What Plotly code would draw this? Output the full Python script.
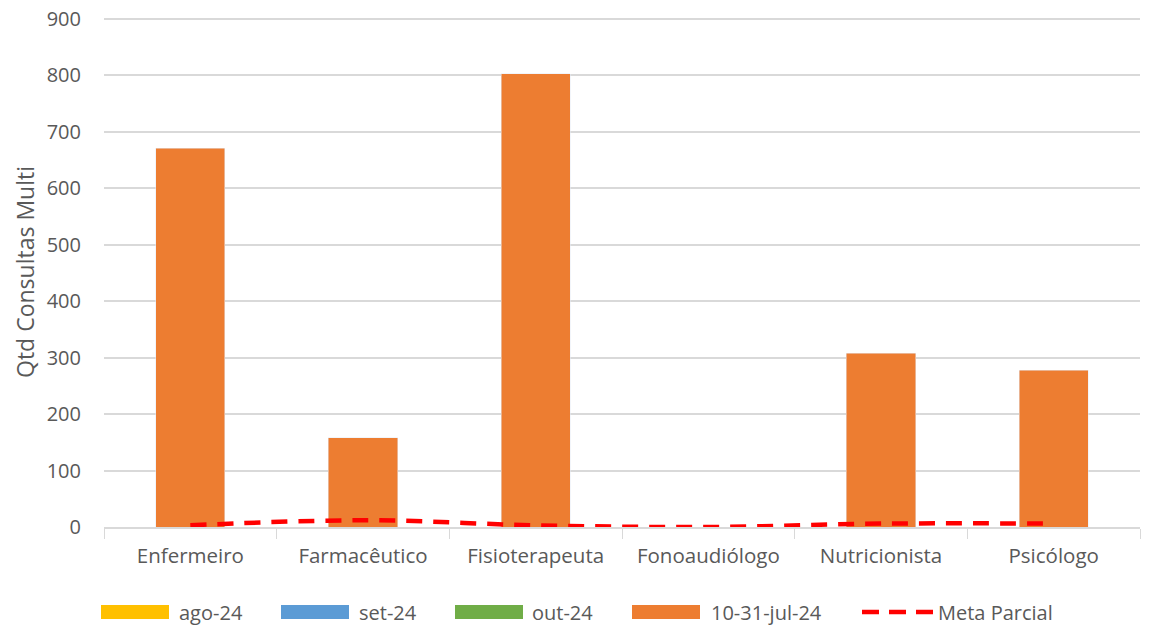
import plotly.graph_objects as go

categories = ["Enfermeiro", "Farmacêutico", "Fisioterapeuta", "Fonoaudiólogo", "Nutricionista", "Psicólogo"]
ago_24 = [None, None, None, None, None, None]
set_24 = [None, None, None, None, None, None]
out_24 = [None, None, None, None, None, None]
jul_24 = [671, 158, 803, 0, 308, 278]
meta_parcial = [3, 12, 3, 0, 6, 6]
y_ticks = [0, 100, 200, 300, 400, 500, 600, 700, 800, 900]

FONT = "'Open Sans', sans-serif"
GREY = "#595959"

# page body has an 8px margin; figure is sized/placed to compensate
W, H = 1147, 618
ML, MR, MT, MB = 96, 15, 9, 99
PW, PH = W - ML - MR, H - MT - MB
Y_TOP = 900 * PH / 508.0  # keeps the 900 gridline 2px inside the plot area so it is drawn


def px(x):
    return (x - 8 - ML) / PW


def py(y):
    return (H - MB - (y - 8)) / PH


bar_series = [("ago-24", ago_24, "#FFC000"), ("set-24", set_24, "#5B9BD5"),
              ("out-24", out_24, "#70AD47"), ("10-31-jul-24", jul_24, "#ED7D31")]

fig = go.Figure()
for name, vals, col in bar_series:
    fig.add_trace(go.Bar(name=name, x=categories, y=vals, marker_color=col, showlegend=False))
fig.add_trace(go.Scatter(name="Meta Parcial", x=categories, y=meta_parcial, mode="lines", showlegend=False,
                         line=dict(color="#FF0000", width=4.5, dash="16px,11px", shape="spline")))

# legend drawn below the plot (wide swatches like the original)
sym_x = [101, 281, 455, 632, 862]
sym_w = [68, 68, 68, 68, 71]
txt_x = [177, 357, 530, 709, 936]
LEG_Y = 612
shapes = []
annotations = []
for i, tr in enumerate(fig.data):
    if tr.type == "bar":
        shapes.append(dict(type="rect", xref="paper", yref="paper",
                           x0=px(sym_x[i]), x1=px(sym_x[i] + sym_w[i]),
                           y0=py(LEG_Y + 7), y1=py(LEG_Y - 7),
                           fillcolor=tr.marker.color, line=dict(width=0)))
    else:
        shapes.append(dict(type="line", xref="paper", yref="paper",
                           x0=px(sym_x[i]), x1=px(sym_x[i] + sym_w[i]),
                           y0=py(LEG_Y), y1=py(LEG_Y),
                           line=dict(color="#FF0000", width=4.5, dash="17px,10px")))
    annotations.append(dict(text=tr.name, xref="paper", yref="paper",
                            x=px(txt_x[i]), y=py(LEG_Y), xanchor="left", yanchor="middle",
                            showarrow=False, font=dict(size=20, color=GREY, family=FONT)))

fig.update_layout(
    width=W, height=H,
    margin=dict(l=ML, r=MR, t=MT, b=MB, autoexpand=False),
    barmode="stack", bargap=0.6,
    plot_bgcolor="white", paper_bgcolor="white",
    font=dict(family=FONT, size=20, color=GREY),
    showlegend=False,
    shapes=shapes, annotations=annotations,
    xaxis=dict(showline=True, linecolor="#D9D9D9", linewidth=1.5, automargin=False,
               ticks="outside", tickson="boundaries", ticklen=10, tickcolor="#D9D9D9",
               ticklabelstandoff=10,
               tickfont=dict(size=20.5, color=GREY), showgrid=False),
    yaxis=dict(range=[0, Y_TOP], tickmode="array", tickvals=y_ticks, ticklabeloverflow="allow",
               showgrid=True, gridcolor="#D9D9D9", gridwidth=1.5,
               zeroline=False, automargin=False, tickfont=dict(size=20, color=GREY), ticklabelstandoff=22,
               title=dict(text="Qtd Consultas Multi", font=dict(size=23, color=GREY), standoff=5)),
)

fig.write_html("out.html")
